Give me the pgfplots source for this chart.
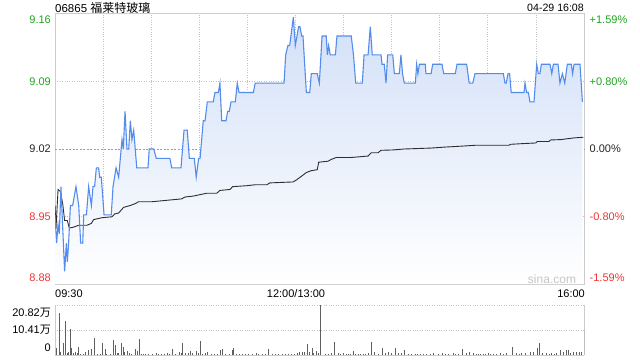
\documentclass[border=0pt]{standalone}
\usepackage{pgfplots}
\pgfplotsset{compat=1.18}
\usepackage{pgfplotstable}
\usepackage{fontspec}
\setmainfont{Liberation Sans}
\newfontfamily\cjk{Noto Sans CJK SC}
\definecolor{pline}{RGB}{84,140,236}
\definecolor{pfill}{RGB}{210,224,248}
\definecolor{upg}{RGB}{30,165,30}
\definecolor{dnr}{RGB}{238,52,52}
\definecolor{bord}{RGB}{204,204,204}
\definecolor{gridc}{RGB}{195,195,195}
\definecolor{volc}{RGB}{95,95,95}
\definecolor{avgc}{RGB}{45,45,50}

\pgfplotstableread{
t p
0 8.95
1.0 8.92
1.9 8.94
2.7 8.93
3.7 8.98
6.0 8.89
7.1 8.92
7.7 8.90
8.5 8.92
9.6 8.96
11.0 8.96
13.1 8.98
14.8 8.96
16.0 8.92
17.3 8.92
17.9 8.95
19.6 8.95
21.0 8.98
22.7 8.96
23.7 8.98
24.7 8.98
25.8 9.00
27.2 9.00
27.9 8.99
28.9 8.99
30.6 8.95
35.1 8.95
36.2 8.98
38.1 9.00
39.7 8.99
41.8 9.03
42.6 9.02
43.7 9.06
44.9 9.02
46.0 9.02
47.0 9.05
48.0 9.03
49.1 9.04
51.0 9.00
58.0 9.00
58.8 9.02
61.6 9.02
63.2 9.01
71.7 9.01
72.8 9.00
78.6 9.00
80.5 9.04
82.5 9.04
83.8 9.01
86.9 9.01
88.1 8.99
89.6 9.01
90.5 9.01
92.5 9.05
93.6 9.05
95.0 9.07
98.7 9.07
99.8 9.08
101.9 9.08
102.9 9.09
104.0 9.05
106.7 9.05
107.7 9.06
108.7 9.06
109.8 9.07
112.5 9.07
113.7 9.09
114.8 9.08
123.7 9.08
124.9 9.09
142.9 9.09
143.9 9.12
145.3 9.13
146.4 9.13
148.7 9.16
149.9 9.13
152.0 9.15
152.8 9.15
153.9 9.14
154.7 9.14
156.8 9.08
158.9 9.08
159.9 9.10
163.6 9.10
164.9 9.09
166.6 9.14
169.2 9.14
169.9 9.12
170.7 9.13
171.7 9.12
174.9 9.12
175.9 9.14
184.8 9.14
186.2 9.12
187.6 9.09
191.7 9.09
192.8 9.12
195.3 9.12
196.7 9.15
197.9 9.12
203.4 9.12
204.0 9.11
205.4 9.11
206.5 9.09
207.5 9.12
210.7 9.12
211.7 9.10
214.8 9.10
215.8 9.12
216.8 9.10
217.9 9.09
224.8 9.09
225.6 9.11
226.4 9.10
227.3 9.11
231.0 9.11
231.4 9.10
234.6 9.10
235.6 9.11
241.4 9.11
242.5 9.10
249.7 9.10
250.8 9.11
256.8 9.11
258.4 9.09
260.6 9.09
262.0 9.10
279.7 9.10
280.7 9.09
281.5 9.09
282.6 9.10
283.6 9.10
284.6 9.08
292.6 9.08
293.2 9.09
294.2 9.08
295.3 9.08
296.3 9.07
298.8 9.07
300.5 9.11
301.5 9.10
302.5 9.10
303.4 9.11
308.8 9.11
309.9 9.10
310.9 9.11
313.8 9.11
315.0 9.09
316.5 9.10
318.0 9.09
319.6 9.11
322.1 9.11
322.9 9.10
323.8 9.11
327.5 9.11
329.0 9.07
}\price

\pgfplotstableread{
t a
0 8.960
0.6 8.935
1.9 8.977
3.3 8.975
4.8 8.962
6.0 8.944
7.7 8.944
8.9 8.936
11.6 8.937
14.8 8.939
20.0 8.939
22.7 8.941
24.1 8.945
29.3 8.947
35.6 8.948
37.2 8.951
39.7 8.952
42.8 8.958
47.0 8.960
50.1 8.962
52.2 8.964
60.5 8.964
66.7 8.965
72.8 8.966
79.0 8.967
81.1 8.969
86.3 8.970
94.6 8.973
100.9 8.973
102.9 8.976
109.2 8.977
110.8 8.980
119.6 8.981
124.8 8.982
132.1 8.982
134.1 8.984
148.5 8.985
150.5 8.987
153.7 8.991
156.8 8.995
159.9 8.997
163.6 8.998
164.5 9.006
170.3 9.007
172.4 9.009
175.5 9.011
184.8 9.011
195.3 9.0125
197.3 9.016
201.5 9.016
203.4 9.0186
210.7 9.019
217.9 9.020
234.6 9.021
242.9 9.022
253.3 9.023
262.6 9.024
283.2 9.024
284.3 9.025
291.5 9.0257
299.9 9.0264
300.9 9.028
308.2 9.028
309.2 9.0296
315.5 9.030
323.8 9.0318
329.6 9.0325
}\avg

\pgfplotstableread{
t v
1.2 3.0
2.7 17.5
3.7 1.4
5.2 4.8
6.4 14.0
7.7 0.7
8.5 1.4
9.6 11.0
10.2 3.0
11.2 0.7
12.7 1.4
13.7 1.0
14.8 3.4
15.8 0.5
17.9 0.4
19.3 1.1
21.0 2.1
22.7 2.7
24.5 7.1
26.2 0.4
28.3 0.4
29.9 4.8
31.4 2.7
32.4 0.4
34.5 0.5
36.4 6.2
37.6 4.1
38.7 1.0
39.7 0.7
41.2 4.8
42.4 3.2
43.5 1.4
44.9 1.8
46.4 0.7
48.0 0.4
50.1 2.3
51.4 1.8
52.6 6.6
53.8 0.5
55.0 0.3
56.3 0.4
58.4 0.3
60.5 0.4
63.0 0.7
64.8 0.3
66.7 0.4
68.3 0.3
69.9 0.7
71.5 0.3
73.0 2.3
75.1 0.4
77.6 1.1
78.8 0.7
79.8 4.8
81.3 0.7
83.0 0.7
84.4 1.8
85.9 0.7
88.0 1.8
89.2 0.7
90.7 6.0
92.1 0.4
93.8 0.7
95.4 1.4
97.9 0.4
99.5 0.3
101.1 0.4
103.1 1.9
104.6 2.3
106.3 0.4
108.7 0.4
110.4 2.1
111.5 3.0
113.5 0.4
115.0 0.3
116.7 0.3
118.8 0.3
120.8 0.3
123.0 0.3
125.4 1.0
127.2 0.3
129.1 0.4
131.0 0.3
132.9 2.3
135.4 0.4
137.5 0.3
139.5 0.5
141.6 0.3
143.7 0.4
145.8 0.3
147.8 0.4
149.5 0.3
151.0 1.0
152.4 1.4
154.1 1.4
155.8 1.4
157.2 4.4
158.6 1.4
160.3 3.0
161.4 1.0
162.8 1.8
164.1 0.7
165.5 20.82
168.4 0.6
170.5 0.4
172.6 1.0
174.2 5.5
176.7 0.7
178.3 0.4
179.9 0.7
181.5 0.4
183.0 0.6
184.6 0.4
186.1 1.7
187.7 0.4
189.2 0.6
190.8 0.4
192.3 0.6
193.9 0.4
195.5 0.7
197.6 5.5
199.0 1.4
201.7 0.6
204.2 3.1
205.9 0.7
207.9 1.3
210.0 0.7
212.5 3.1
214.2 1.0
216.3 0.7
217.9 2.1
220.4 0.6
222.5 0.4
224.6 0.6
226.2 0.4
227.7 0.6
229.8 0.4
231.9 0.6
234.0 0.4
236.0 1.0
239.1 0.6
241.8 0.8
243.6 0.4
245.4 0.6
248.5 0.7
250.0 0.4
251.6 0.6
254.3 2.7
256.4 1.0
258.5 1.1
261.0 0.7
262.6 0.4
264.1 0.6
265.7 0.4
267.2 0.6
268.8 0.4
270.3 0.7
271.9 0.4
273.4 0.6
275.5 0.4
277.6 0.7
279.7 0.4
281.8 0.7
285.3 3.4
288.0 0.7
289.6 0.4
291.1 1.0
293.6 0.7
296.3 1.3
298.4 1.4
300.9 3.1
302.1 4.8
304.2 0.8
306.7 0.8
308.3 0.4
309.8 0.7
311.4 0.4
313.0 0.8
315.5 2.1
317.1 1.4
318.8 2.1
320.2 2.1
321.7 0.7
323.3 1.4
325.4 1.1
327.1 1.3
328.6 1.1
330.0 10.5
}\vol

\tikzset{lbl/.style={font=\fontsize{11}{13}\selectfont, inner sep=0pt}}

\begin{document}
\begin{tikzpicture}[x=1pt,y=1pt]
\useasboundingbox (0,0) rectangle (640,360);

% main price axis
\begin{axis}[
  at={(55pt,76pt)}, anchor=south west, scale only axis,
  width=529pt, height=270pt,
  xmin=0, xmax=330, ymin=8.87658, ymax=9.16342,
  xtick={30,60,...,300}, ytick={8.94834,9.09166},
  xticklabels={}, yticklabels={},
  major tick length=0pt,
  grid=major,
  grid style={gridc, dotted, line width=0.8pt},
  extra y ticks={9.02}, extra y tick labels={},
  extra y tick style={grid style={gray!75, dash pattern=on 2pt off 1.5pt, line width=0.8pt}},
  axis line style={bord, line width=1pt},
]
\addplot[draw=none, top color=pfill, bottom color=white, forget plot]
  table[x=t,y=p] {\price} -- (axis cs:329,8.87658) -- (axis cs:0,8.87658) -- cycle;
\addplot[avgc, line width=0.9pt, no markers] table[x=t,y=a] {\avg};
\addplot[pline, line width=1.1pt, no markers] table[x=t,y=p] {\price};
\end{axis}

% volume axis
\begin{axis}[
  at={(55pt,5pt)}, anchor=south west, scale only axis,
  width=529pt, height=50pt,
  xmin=0, xmax=330, ymin=0, ymax=20.82,
  xtick=\empty, ytick={10.41,20.82}, yticklabels={},
  major tick length=0pt,
  ymajorgrids,
  grid style={gridc, dotted, line width=1pt},
  axis x line*=bottom, axis y line*=box,
  axis line style={bord, line width=1pt, -},
]
\addplot[ycomb, volc, line width=0.9pt, no markers] table[x=t,y=v] {\vol};
\end{axis}

% labels
\node[lbl, anchor=west, font=\fontsize{11.5}{13}\selectfont] at (55,352.5) {06865 {\cjk\fontsize{12}{13}\selectfont 福莱特玻璃}};
\node[lbl, anchor=east, font=\fontsize{10.6}{13}\selectfont] at (584,352.5) {04-29 16:08};

\node[lbl, anchor=east, text=upg] at (51,340) {9.16};
\node[lbl, anchor=east, text=upg] at (51,278) {9.09};
\node[lbl, anchor=east, text=black!85] at (51,211) {9.02};
\node[lbl, anchor=east, text=dnr] at (51,143) {8.95};
\node[lbl, anchor=east, text=dnr] at (51,82) {8.88};

\node[lbl, anchor=west, text=upg] at (589.5,340) {+1.59\%};
\node[lbl, anchor=west, text=upg] at (589.5,278) {+0.80\%};
\node[lbl, anchor=west, text=black!85] at (589.5,211) {0.00\%};
\node[lbl, anchor=west, text=dnr] at (589.5,143) {-0.80\%};
\node[lbl, anchor=west, text=dnr] at (589.5,82) {-1.59\%};

\node[lbl, anchor=west] at (55,66.5) {09:30};
\node[lbl, anchor=center] at (296,66.5) {12:00/13:00};
\node[lbl, anchor=east] at (585,66.5) {16:00};

\node[lbl, anchor=east] at (51,47.5) {20.82{\cjk 万}};
\node[lbl, anchor=east] at (51,30) {10.41{\cjk 万}};
\node[lbl, anchor=east] at (51,12) {0};

\node[lbl, text=black!22, font=\fontsize{12}{14}\selectfont] at (552,81) {sina.com};
\end{tikzpicture}
\end{document}
